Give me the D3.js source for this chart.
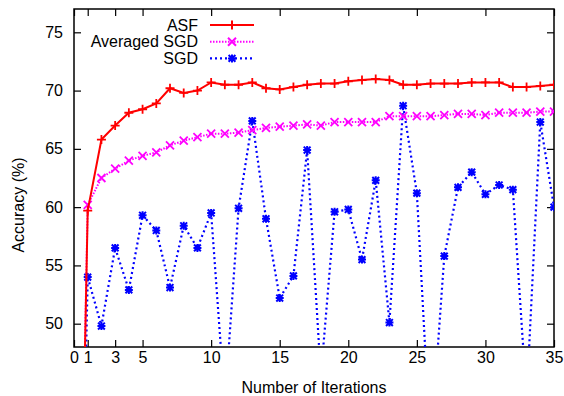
<!DOCTYPE html>
<html><head><meta charset="utf-8">
<script src="https://cdn.jsdelivr.net/npm/d3@7"></script>
<style>
body{margin:0;background:#fff;}
text{font-family:"Liberation Sans",Arial,Helvetica,sans-serif;}
</style></head>
<body>
<svg id="c" width="564" height="396"></svg>
<script>
const iterations = [0,1,2,3,4,5,6,7,8,9,10,11,12,13,14,15,16,17,18,19,20,21,22,23,24,25,26,27,28,29,30,31,32,33,34,35];
const asf = [0,59.7,65.8,67.0,68.1,68.4,68.9,70.2,69.8,70.0,70.7,70.5,70.5,70.7,70.2,70.1,70.3,70.5,70.6,70.6,70.8,70.9,71.0,70.9,70.5,70.5,70.6,70.6,70.6,70.7,70.7,70.7,70.3,70.3,70.4,70.5];
const avgSgd = [0,60.2,62.5,63.3,64.0,64.4,64.7,65.3,65.7,66.0,66.3,66.3,66.4,66.6,66.8,66.9,67.0,67.1,67.0,67.3,67.3,67.3,67.3,67.8,67.8,67.8,67.8,67.9,68.0,68.0,67.9,68.1,68.1,68.1,68.2,68.2];
const sgd = [0,54.0,49.8,56.5,52.9,59.3,58.0,53.1,58.4,56.5,59.5,43.2,59.9,67.4,59.0,52.2,54.1,64.9,45.5,59.6,59.8,55.5,62.3,50.1,68.7,61.2,39.2,55.8,61.7,63.0,61.1,61.9,61.5,43.5,67.3,60.0];
const xTicks = [0,1,3,5,10,15,20,25,30,35];
const yTicks = [50,55,60,65,70,75];
const seriesNames = ["ASF","Averaged SGD","SGD"];

const L=74,R=554,T=9,B=347;
const x=d3.scaleLinear().domain([0,35]).range([L,R]);
const y=d3.scaleLinear().domain([48,77]).range([B,T]);
const svg=d3.select("#c");
svg.append("defs").append("clipPath").attr("id","clip")
  .append("rect").attr("x",L).attr("y",T).attr("width",R-L).attr("height",B-T);

const tl=7;
const ax=(g)=>g.selectAll(".domain").remove();
svg.append("g").attr("transform",`translate(0,${B})`)
  .call(d3.axisBottom(x).tickValues(xTicks).tickSizeInner(-tl).tickSizeOuter(0).tickPadding(5).tickFormat(d3.format("d")))
  .call(ax).call(g=>g.selectAll("text").attr("font-size",16).attr("fill","#000"));
svg.append("g").attr("transform",`translate(0,${T})`)
  .call(d3.axisTop(x).tickValues(xTicks).tickSizeInner(-tl).tickSizeOuter(0).tickFormat(""))
  .call(ax);
svg.append("g").attr("transform",`translate(${L},0)`)
  .call(d3.axisLeft(y).tickValues(yTicks).tickSizeInner(-tl).tickSizeOuter(0).tickPadding(11).tickFormat(d3.format("d")))
  .call(ax).call(g=>g.selectAll("text").attr("font-size",16).attr("fill","#000"));
svg.append("g").attr("transform",`translate(${R},0)`)
  .call(d3.axisRight(y).tickValues(yTicks).tickSizeInner(-tl).tickSizeOuter(0).tickFormat(""))
  .call(ax);
svg.selectAll(".tick line").attr("stroke","#000").attr("stroke-width",1.2);
svg.append("rect").attr("x",L).attr("y",T).attr("width",R-L).attr("height",B-T)
  .attr("fill","none").attr("stroke","#000").attr("stroke-width",1.5);

svg.append("text").attr("x",314).attr("y",393).attr("text-anchor","middle").attr("font-size",16).text("Number of Iterations");
svg.append("text").attr("transform","translate(24,205) rotate(-90)").attr("text-anchor","middle").attr("font-size",16).text("Accuracy (%)");

const plus=(g,s)=>`M${-s},0H${s}M0,${-s}V${s}`;
const cross=(g,s)=>`M${-s},${-s}L${s},${s}M${-s},${s}L${s},${-s}`;
const star=(g,s)=>plus(g,s)+cross(g,s*0.85);

const series=[
 {name:seriesNames[0],vals:asf,color:"#ff0000",dash:null,w:2,mk:plus,ms:4.5},
 {name:seriesNames[1],vals:avgSgd,color:"#ff00ff",dash:"1.5,1.5",w:2,mk:cross,ms:4},
 {name:seriesNames[2],vals:sgd,color:"#0000ff",dash:"2,3",w:2.2,mk:star,ms:4}
];
const plot=svg.append("g").attr("clip-path","url(#clip)");
const line=d3.line().x((d,i)=>x(iterations[i])).y(d=>y(d));
series.slice().reverse().forEach(s=>{
  plot.append("path").attr("d",line(s.vals)).attr("fill","none").attr("stroke",s.color)
    .attr("stroke-width",s.w).attr("stroke-dasharray",s.dash);
  plot.selectAll(null).data(s.vals).enter().append("path")
    .attr("transform",(d,i)=>`translate(${x(iterations[i])},${y(d)})`)
    .attr("d",s.mk(null,s.ms)).attr("stroke",s.color).attr("stroke-width",s.name==="SGD"?2:1.8).attr("fill","none");
});

const lg=svg.append("g");
series.forEach((s,i)=>{
  const yy=25+i*16.7;
  lg.append("text").attr("x",198).attr("y",yy).attr("dy","0.35em").attr("text-anchor","end").attr("font-size",16).text(s.name);
  lg.append("line").attr("x1",210).attr("x2",254).attr("y1",yy).attr("y2",yy).attr("stroke",s.color)
    .attr("stroke-width",s.w).attr("stroke-dasharray",s.dash);
  lg.append("path").attr("transform",`translate(232,${yy})`).attr("d",s.mk(null,s.ms))
    .attr("stroke",s.color).attr("stroke-width",2).attr("fill","none");
});
</script>
</body></html>
